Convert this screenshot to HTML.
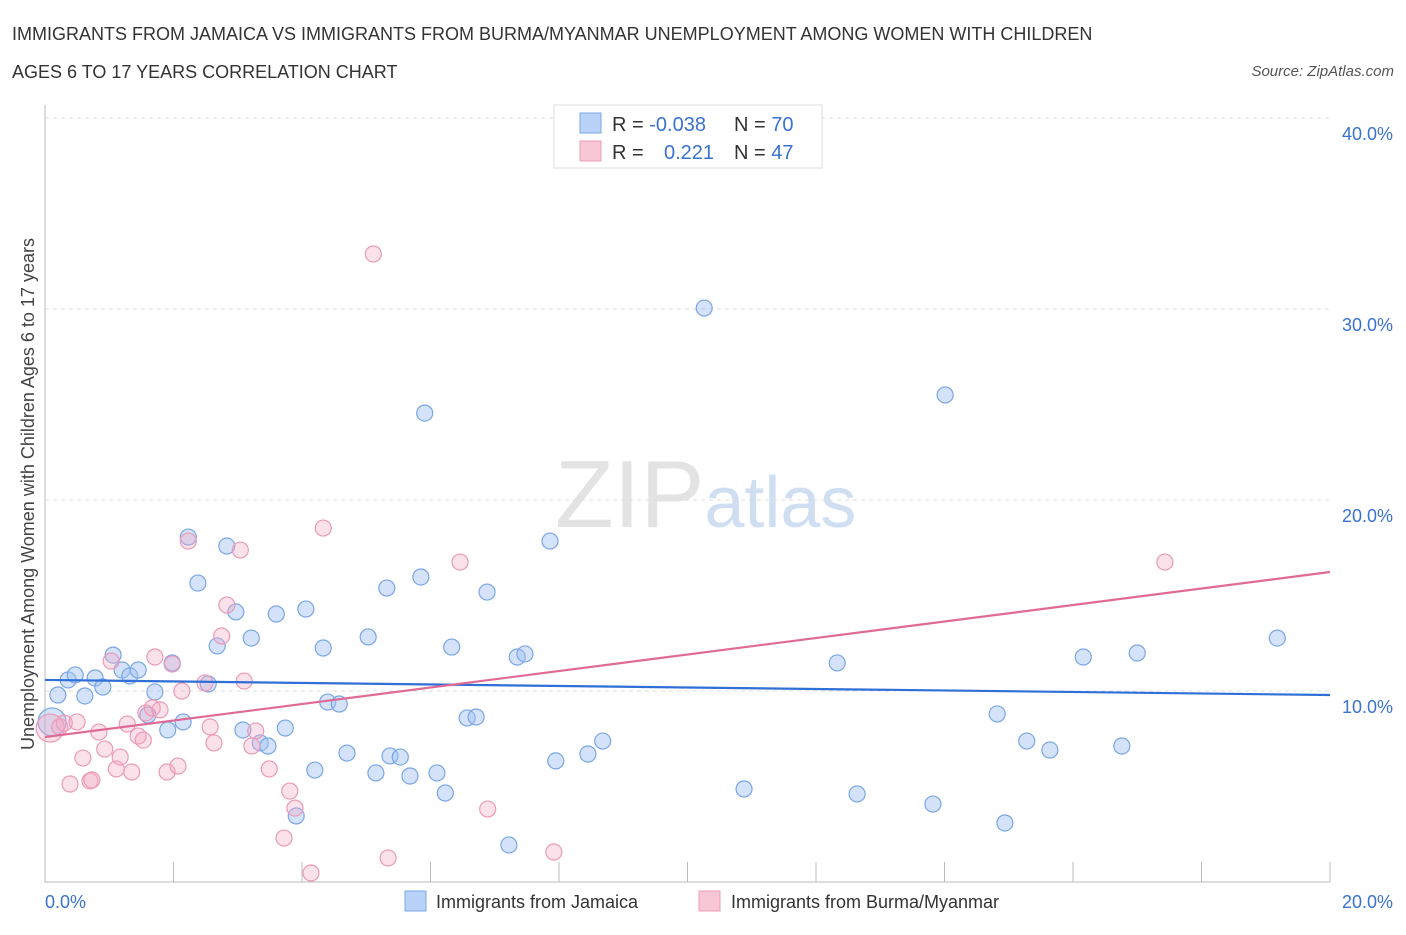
<!DOCTYPE html>
<html><head><meta charset="utf-8"><style>
body{margin:0;background:#fff;font-family:"Liberation Sans",sans-serif;}
svg text{font-family:"Liberation Sans",sans-serif;}
</style></head><body>
<svg id="chart" width="1406" height="930" viewBox="0 0 1406 930" xmlns="http://www.w3.org/2000/svg">
<text x="12" y="40" font-size="18" fill="#333">IMMIGRANTS FROM JAMAICA VS IMMIGRANTS FROM BURMA/MYANMAR UNEMPLOYMENT AMONG WOMEN WITH CHILDREN</text>
<text x="12" y="78" font-size="18" fill="#333">AGES 6 TO 17 YEARS CORRELATION CHART</text>
<text x="1394" y="76" font-size="15" fill="#555" font-style="italic" text-anchor="end">Source: ZipAtlas.com</text>
<text x="555" y="527" font-size="96" fill="#ddd" font-family="Liberation Serif" opacity="0.8">ZIP<tspan fill="#c5d7f0" font-family="Liberation Sans" font-size="72">atlas</tspan></text>
<text transform="translate(34,494) rotate(-90)" font-size="18" fill="#444" text-anchor="middle">Unemployment Among Women with Children Ages 6 to 17 years</text>
<g id="grid"></g><g id="ticks"></g>
<line x1="45" y1="105" x2="45" y2="882" stroke="#bbb"/>
<line x1="45" y1="882" x2="1330" y2="882" stroke="#bbb"/>
<g id="pts"></g><g id="trends"></g>
<g>
<rect x="554" y="105" width="268" height="63" fill="#fff" stroke="#ddd"/>
<rect x="580" y="113" width="21" height="20" fill="#b8d2f8" stroke="#7aa8ea"/>
<rect x="580" y="141" width="21" height="20" fill="#f9c6d6" stroke="#ec9cb8"/>
<text x="612" y="131" font-size="20" fill="#333">R = <tspan fill="#3a72d0">-0.038</tspan><tspan x="734">N = </tspan><tspan fill="#3a72d0">70</tspan></text>
<text x="612" y="159" font-size="20" fill="#333">R = <tspan x="664" fill="#3a72d0">0.221</tspan><tspan x="734">N = </tspan><tspan fill="#3a72d0">47</tspan></text>
</g>
<text x="45" y="908" font-size="18" fill="#3a72d0">0.0%</text>
<text x="1393" y="908" font-size="18" fill="#3a72d0" text-anchor="end">20.0%</text>
<g>
<rect x="405" y="891" width="21" height="20" fill="#b8d2f8" stroke="#7aa8ea"/>
<text x="436" y="908" font-size="18" fill="#333">Immigrants from Jamaica</text>
<rect x="699" y="891" width="21" height="20" fill="#f9c6d6" stroke="#ec9cb8"/>
<text x="731" y="908" font-size="18" fill="#333">Immigrants from Burma/Myanmar</text>
</g>
</svg>
<script>
const yTicks=[10,20,30,40];
const xTickCount=10;
const blueX=[0.11,0.20,0.36,0.47,0.62,0.78,0.90,1.06,1.20,1.32,1.45,1.60,1.71,1.91,1.98,2.15,2.23,2.38,2.54,2.68,2.83,2.97,3.08,3.21,3.35,3.47,3.60,3.74,3.91,4.06,4.20,4.33,4.40,4.58,4.70,5.03,5.15,5.32,5.37,5.53,5.68,5.85,5.91,6.10,6.23,6.33,6.57,6.71,6.88,7.22,7.35,7.47,7.86,7.95,8.45,8.68,10.26,10.88,12.33,12.64,13.82,14.01,14.82,14.94,15.28,15.64,16.16,16.76,17.00,19.18];
const blueY=[8.38,9.79,10.58,10.84,9.74,10.68,10.21,11.88,11.10,10.79,11.10,8.74,9.95,7.96,11.47,8.38,18.06,15.65,10.37,12.36,17.59,14.14,7.96,12.77,7.28,7.12,14.03,8.06,3.46,14.29,5.86,12.25,9.42,9.32,6.75,12.83,5.71,15.39,6.60,6.54,5.55,15.97,24.55,5.71,4.66,12.30,8.59,8.64,15.18,1.94,11.78,11.94,17.85,6.34,6.70,7.38,30.05,4.87,11.47,4.61,4.08,25.50,8.80,3.09,7.38,6.91,11.78,7.12,11.99,12.77];
const pinkX=[0.08,0.23,0.30,0.39,0.50,0.59,0.70,0.73,0.84,0.93,1.03,1.11,1.17,1.28,1.35,1.45,1.53,1.57,1.67,1.71,1.79,1.90,1.98,2.07,2.13,2.23,2.49,2.57,2.63,2.75,2.83,3.04,3.10,3.22,3.28,3.49,3.72,3.81,3.89,4.14,4.33,5.11,5.34,6.46,6.89,7.92,17.43];
const pinkY=[8.06,8.12,8.32,5.13,8.38,6.49,5.29,5.34,7.85,6.96,11.57,5.92,6.54,8.27,5.76,7.64,7.43,8.85,9.11,11.78,9.01,5.76,11.41,6.07,10.00,17.85,10.42,8.12,7.28,12.88,14.50,17.38,10.52,7.12,7.91,5.92,2.30,4.76,3.87,0.47,18.53,32.88,1.26,16.75,3.82,1.57,16.75];
const blueTrend=[10.58,9.79];
const pinkTrend=[7.59,16.23];
const NS="http://www.w3.org/2000/svg";
const X0=45,X1=1330,Y0=882,PERY=19.1;
const xs=v=>X0+(v/20)*(X1-X0);
const ys=v=>Y0-v*PERY;
function mk(t,a,p){const e=document.createElementNS(NS,t);for(const k in a)e.setAttribute(k,a[k]);p.appendChild(e);return e;}
const grid=document.getElementById('grid');
yTicks.forEach(v=>{
const l=mk('line',{x1:X0,x2:X1,y1:ys(v),y2:ys(v),stroke:'#ddd','stroke-dasharray':'4,4'},grid);


const t=mk('text',{x:1393,y:ys(v)+22,'font-size':18,fill:'#3a72d0','text-anchor':'end'},grid);
t.textContent=v.toFixed(1)+'%';


});
const ticks=document.getElementById('ticks');
for(let i=0;i<=xTickCount;i++){
const x=xs(i*20/xTickCount);
const l=mk('line',{x1:x,x2:x,y1:862,y2:882,stroke:'#bbb'},ticks);


}
const pts=document.getElementById('pts');
function dots(X,Y,fill,stroke,name){
X.forEach((x,i)=>{
const big=i===0;
const c=mk('circle',{cx:xs(x),cy:ys(Y[i]),r:big?14:8,fill:fill,stroke:stroke,'stroke-width':1.2},pts);


});
}
dots(blueX,blueY,'rgba(160,192,242,0.45)','#7aa6e6','point-jamaica');
dots(pinkX,pinkY,'rgba(244,168,196,0.35)','#eb9ab8','point-burma');
const tr=document.getElementById('trends');
const b=mk('line',{x1:xs(0),y1:ys(blueTrend[0]),x2:xs(20),y2:ys(blueTrend[1]),stroke:'#2f6fd6','stroke-width':2.2},tr);


const p=mk('line',{x1:xs(0),y1:ys(pinkTrend[0]),x2:xs(20),y2:ys(pinkTrend[1]),stroke:'#e06a96','stroke-width':2.2},tr);


</script>
</body></html>
